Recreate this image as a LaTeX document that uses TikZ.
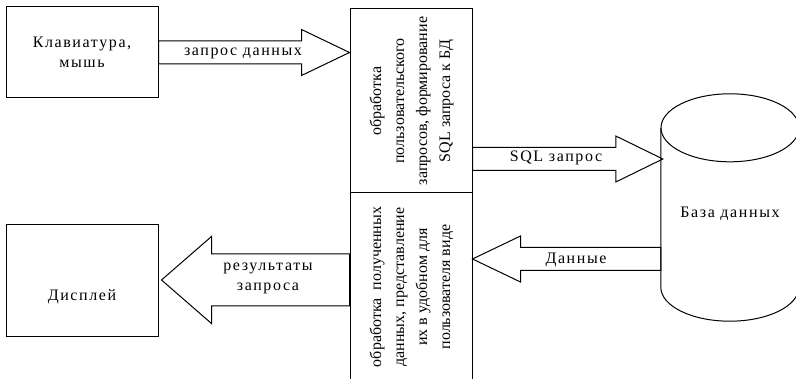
\documentclass[tikz,border=0pt]{standalone}
\usepackage{fontspec}
\setmainfont{Liberation Serif}
\newfontfamily\spaced[LetterSpace=10]{Liberation Serif}
\usepackage{graphicx}
\usepackage{tikz}
\usetikzlibrary{calc, positioning}
\tikzset{
  basebox/.style={rectangle,draw=black,line width=1pt,align=center,inner sep=0pt},
  devbox/.style={basebox,minimum width=152pt,font=\fontsize{16}{20}\selectfont\spaced},
  procbox/.style={basebox,minimum width=122pt,font=\fontsize{16}{23}\selectfont},
  dbnode/.style={rectangle,minimum width=138pt,minimum height=227pt,inner sep=0pt},
  lbl/.style={align=center,inner sep=0pt,font=\fontsize{16}{20}\selectfont\spaced},
  blockline/.style={draw=black,line width=1pt,line join=miter}
}
%% vertical text inside a box
\newcommand{\vtext}[1]{\rotatebox{90}{\begin{tabular}{@{}c@{}}#1\end{tabular}}}
%% block arrow: from, to, shaft half width, head half width, head length
\newcommand{\fatarrow}[5]{%
  \coordinate (fa-b) at ($(#2)!#5!(#1)$);
  \draw[blockline]
    ($(#1)!#3!90:(#2)$) -- ($(fa-b)!#3!90:(#2)$) -- ($(fa-b)!#4!90:(#2)$)
    -- (#2) -- ($(fa-b)!#4!-90:(#2)$) -- ($(fa-b)!#3!-90:(#2)$)
    -- ($(#1)!#3!-90:(#2)$) -- cycle;
}

\begin{document}
\begin{tikzpicture}[x=1pt,y=-1pt]
  \useasboundingbox (0,0) rectangle (796,379);

  %% devices
  \node[devbox,minimum height=91pt] (kbd) at (82,52.5) {Клавиатура,\\мышь};
  \node[devbox,minimum height=112pt,
        label={[lbl,yshift=-16pt]center:Дисплей}] (disp) at (82,281) {};

  %% processing blocks
  \node[procbox,minimum height=184pt] (procA) at (411,101)
    {\vtext{обработка\\пользовательского\\запросов, формирование\\SQL запроса к БД}};
  \node[procbox,minimum height=188pt] (procB) at (411,287)
    {\vtext{обработка\ \ полученных\\данных,\ представление\\их в удобном для\\пользователя виде}};

  %% database (cylinder)
  \node[dbnode,label={[lbl,yshift=-6pt]center:База данных}] (db) at (730,207.5) {};
  \draw[blockline] ($(db.north west)+(0,34)$) -- ($(db.south west)+(0,-34)$)
    arc[start angle=180,end angle=360,x radius=69pt,y radius=34pt]
    -- ($(db.north east)+(0,34)$);
  \draw[blockline] ($(db.north)+(0,34)$) ellipse [x radius=69pt,y radius=34pt];

  %% arrow ends
  \coordinate (rowsql) at (0,159);
  \coordinate (rowdata) at (0,259);
  \coordinate (rowres) at (0,280);
  \coordinate (qEnd) at (kbd.east -| procA.west);
  \coordinate (sqlBeg) at (rowsql -| procA.east);
  \coordinate (sqlEnd) at ([xshift=2pt]rowsql -| db.west);
  \coordinate (dataBeg) at (rowdata -| db.west);
  \coordinate (dataEnd) at (rowdata -| procB.east);
  \coordinate (resBeg) at (rowres -| procB.west);
  \coordinate (resEnd) at ([xshift=3pt]rowres -| disp.east);

  \fatarrow{kbd.east}{qEnd}{11.5pt}{23pt}{48pt}
  \fatarrow{sqlBeg}{sqlEnd}{11.5pt}{23pt}{47pt}
  \fatarrow{dataBeg}{dataEnd}{11.5pt}{23pt}{48pt}
  \fatarrow{resBeg}{resEnd}{26pt}{43.5pt}{50pt}

  %% arrow labels
  \node[lbl] (lq) at (243,53) {запрос данных};
  \node[lbl] (lsql) at (556,158) {SQL запрос};
  \node[lbl] (ldata) at (576,260) {Данные};
  \node[lbl] (lres) at (268,278) {результаты\\запроса};
\end{tikzpicture}
\end{document}
